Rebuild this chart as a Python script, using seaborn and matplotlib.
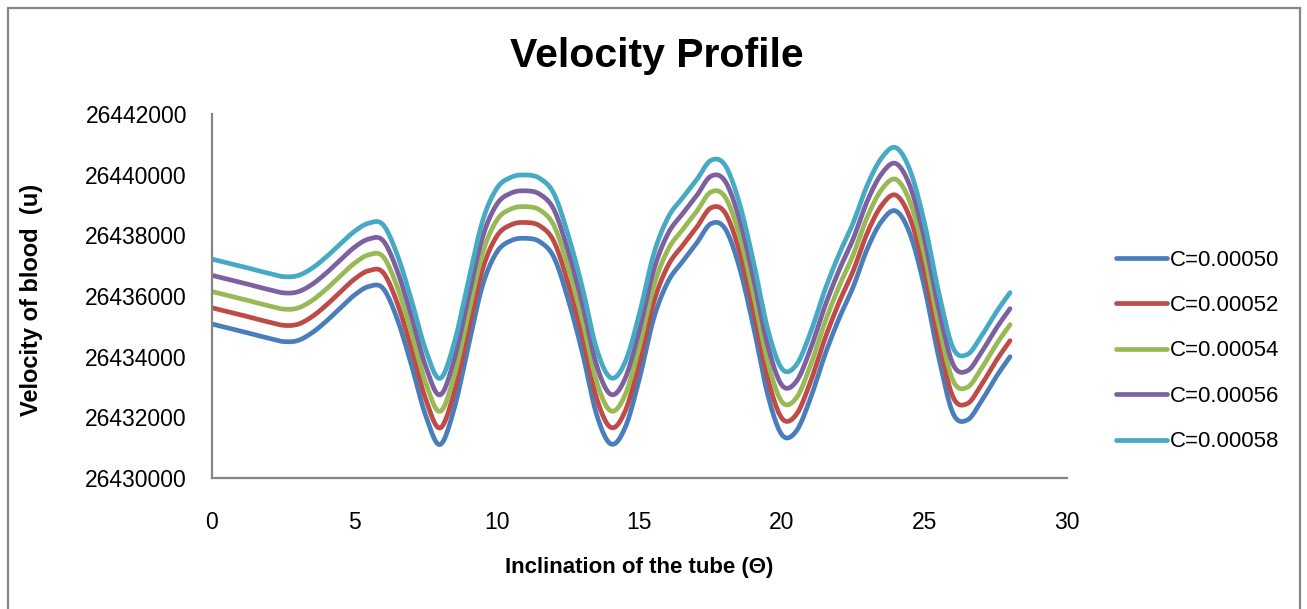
import numpy as np
import pandas as pd
import matplotlib
matplotlib.use("Agg")
import matplotlib.pyplot as plt
from matplotlib.patches import Rectangle
import seaborn as sns

# ---------------- data ----------------
theta = [0, 0.5, 1, 1.5, 2, 2.5, 3, 3.5, 4, 4.5, 5, 5.5, 6, 6.5, 7, 7.5, 8, 8.5,
         9, 9.5, 10, 10.5, 11, 11.5, 12, 12.5, 13, 13.5, 14, 14.5, 15, 15.5,
         16, 16.5, 17, 17.5, 18, 18.5, 19, 19.5, 20, 20.5, 21, 21.5, 22, 22.5,
         23, 23.5, 24, 24.5, 25, 25.5, 26, 26.5, 27, 27.5, 28]

u_c050 = [26435076, 26434961, 26434846, 26434723, 26434605, 26434499, 26434529,
          26434780, 26435160, 26435600, 26436032, 26436313, 26436253, 26435241,
          26433718, 26432053, 26431103, 26432294, 26434374, 26436372, 26437457,
          26437829, 26437902, 26437790, 26437269, 26435877, 26434120, 26432079,
          26431120, 26431670, 26433289, 26435268, 26436474, 26437124, 26437734,
          26438380, 26438225, 26436966, 26434987, 26432745, 26431420, 26431545,
          26432633, 26434044, 26435254, 26436306, 26437572, 26438469, 26438800,
          26438024, 26436286, 26433972, 26432132, 26431911, 26432541, 26433316,
          26433998]
u_c052 = [26435611, 26435496, 26435381, 26435258, 26435140, 26435034, 26435064,
          26435312, 26435690, 26436128, 26436557, 26436835, 26436778, 26435771,
          26434253, 26432593, 26431648, 26432834, 26434909, 26436902, 26437982,
          26438351, 26438424, 26438312, 26437794, 26436407, 26434655, 26432619,
          26431665, 26432210, 26433824, 26435798, 26437002, 26437649, 26438256,
          26438902, 26438747, 26437494, 26435522, 26433285, 26431965, 26432090,
          26433173, 26434579, 26435784, 26436834, 26438097, 26438991, 26439322,
          26438549, 26436816, 26434507, 26432672, 26432451, 26433077, 26433848,
          26434526]
u_c054 = [26436146, 26436031, 26435916, 26435793, 26435675, 26435569, 26435599,
          26435844, 26436220, 26436656, 26437082, 26437357, 26437303, 26436301,
          26434788, 26433133, 26432193, 26433374, 26435444, 26437432, 26438507,
          26438873, 26438946, 26438834, 26438319, 26436937, 26435190, 26433159,
          26432210, 26432750, 26434359, 26436328, 26437530, 26438174, 26438778,
          26439424, 26439269, 26438022, 26436057, 26433825, 26432510, 26432635,
          26433713, 26435114, 26436314, 26437362, 26438622, 26439513, 26439844,
          26439074, 26437346, 26435042, 26433212, 26432991, 26433613, 26434380,
          26435054]
u_c056 = [26436681, 26436566, 26436451, 26436328, 26436210, 26436104, 26436134,
          26436376, 26436750, 26437184, 26437607, 26437879, 26437828, 26436831,
          26435323, 26433673, 26432738, 26433914, 26435979, 26437962, 26439032,
          26439395, 26439468, 26439356, 26438844, 26437467, 26435725, 26433699,
          26432755, 26433290, 26434894, 26436858, 26438058, 26438699, 26439300,
          26439946, 26439791, 26438550, 26436592, 26434365, 26433055, 26433180,
          26434253, 26435649, 26436844, 26437890, 26439147, 26440035, 26440366,
          26439599, 26437876, 26435577, 26433752, 26433531, 26434149, 26434912,
          26435582]
u_c058 = [26437216, 26437101, 26436986, 26436863, 26436745, 26436639, 26436669,
          26436908, 26437280, 26437712, 26438132, 26438401, 26438353, 26437361,
          26435858, 26434213, 26433283, 26434454, 26436514, 26438492, 26439557,
          26439917, 26439990, 26439878, 26439369, 26437997, 26436260, 26434239,
          26433300, 26433830, 26435429, 26437388, 26438586, 26439224, 26439822,
          26440468, 26440313, 26439078, 26437127, 26434905, 26433600, 26433725,
          26434793, 26436184, 26437374, 26438418, 26439672, 26440557, 26440888,
          26440124, 26438406, 26436112, 26434292, 26434071, 26434685, 26435444,
          26436110]

series_labels = ["C=0.00050", "C=0.00052", "C=0.00054", "C=0.00056", "C=0.00058"]
series_values = [u_c050, u_c052, u_c054, u_c056, u_c058]
colors = ["#4A7EBB", "#BE4B48", "#98B954", "#7D60A0", "#46AAC5"]

x_ticks = [0, 5, 10, 15, 20, 25, 30]
y_ticks = [26430000, 26432000, 26434000, 26436000, 26438000, 26440000, 26442000]

title = "Velocity Profile"
x_label = "Inclination of the tube (\u0398)"
y_label = "Velocity of blood  (u)"


def smooth_line(x, y, n=12):
    """Excel-style smoothed line: cubic Hermite with Catmull-Rom tangents."""
    x = np.asarray(x, float)
    y = np.asarray(y, float)
    m = np.gradient(y, x)
    xs, ys = [], []
    t = np.linspace(0, 1, n, endpoint=False)
    h00 = 2 * t**3 - 3 * t**2 + 1
    h10 = t**3 - 2 * t**2 + t
    h01 = -2 * t**3 + 3 * t**2
    h11 = t**3 - t**2
    for i in range(len(x) - 1):
        h = x[i + 1] - x[i]
        xs.append(x[i] + t * h)
        ys.append(h00 * y[i] + h10 * h * m[i] + h01 * y[i + 1] + h11 * h * m[i + 1])
    xs.append([x[-1]])
    ys.append([y[-1]])
    return np.concatenate(xs), np.concatenate(ys)


frames = []
for lab, vals in zip(series_labels, series_values):
    sx, sy = smooth_line(theta, vals)
    frames.append(pd.DataFrame({"theta": sx, "u": sy, "series": lab}))
df = pd.concat(frames, ignore_index=True)

# ---------------- style ----------------
sns.set_theme(style="white")
plt.rcParams["font.family"] = ["Liberation Sans", "DejaVu Sans"]
plt.rcParams["text.color"] = "black"

W, H = 1307, 609
fig = plt.figure(figsize=(W / 100, H / 100), dpi=100)
fig.patch.set_facecolor("white")

ax = fig.add_axes([212 / W, 1 - 478 / H, (1067 - 212) / W, (478 - 114) / H])

sns.lineplot(data=df, x="theta", y="u", hue="series", hue_order=series_labels,
             palette=colors, sort=False, estimator=None, linewidth=3.4,
             ax=ax, legend=False)

ax.set_xlim(x_ticks[0], x_ticks[-1])
ax.set_ylim(y_ticks[0], y_ticks[-1])
ax.set_xticks(x_ticks)
ax.set_xticklabels([str(v) for v in x_ticks])
ax.set_yticks(y_ticks)
ax.set_yticklabels([str(v) for v in y_ticks])
ax.tick_params(axis="both", length=0, labelsize=16.5, colors="black")
ax.tick_params(axis="y", pad=18)
ax.tick_params(axis="x", pad=24)

for side in ["top", "right"]:
    ax.spines[side].set_visible(False)
for side in ["left", "bottom"]:
    ax.spines[side].set_color("#868686")
    ax.spines[side].set_linewidth(1.6)
ax.grid(False)
ax.set_xlabel("")
ax.set_ylabel("")

fig.text(657 / W, 1 - 56 / H, title, ha="center", va="center",
         fontsize=29.5, fontweight="bold", color="black")
fig.text(639 / W, 1 - 568 / H, x_label, ha="center", va="center",
         fontsize=16, fontweight="bold", color="black")
fig.text(32 / W, 1 - 300 / H, y_label, ha="center", va="center",
         rotation=90, fontsize=17, fontweight="bold", color="black")

handles = [plt.Line2D([], [], color=c, lw=3.4) for c in colors]
leg = fig.legend(handles, series_labels, loc="center left",
                 bbox_to_anchor=(1116 / W, 1 - 351 / H), frameon=False,
                 fontsize=16, handlelength=2.3, handletextpad=0.13,
                 labelspacing=1.1, borderaxespad=0, borderpad=0)
for txt in leg.get_texts():
    txt.set_color("black")

# chart-area border
fig.add_artist(Rectangle((8 / W, -0.01), (1300 - 8) / W, 1.01 - 8 / H,
                         transform=fig.transFigure, fill=False,
                         edgecolor="#868686", linewidth=1.6))

fig.savefig("out.png", dpi=100, facecolor="white")
